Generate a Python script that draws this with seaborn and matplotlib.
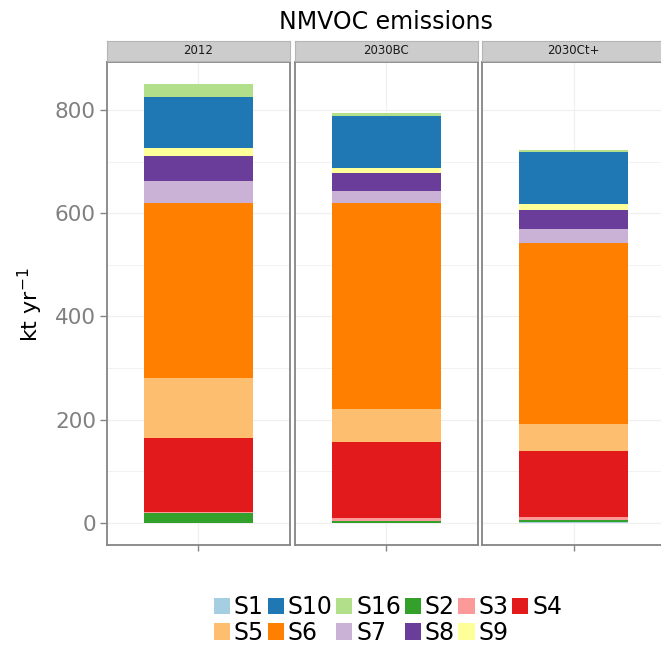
import numpy as np
import pandas as pd
import matplotlib
matplotlib.use("Agg")
import matplotlib.pyplot as plt
from matplotlib.patches import Patch
from matplotlib.ticker import MultipleLocator
import seaborn as sns

# ---------------- data ----------------
scenarios = ["2012", "2030BC", "2030Ct+"]
# stacking order, bottom to top
sectors = ["S1", "S2", "S3", "S4", "S5", "S6", "S7", "S8", "S9", "S10", "S16"]
vals_2012 = [0.5, 18.9, 1.9, 143.2, 117.3, 338.7, 42.0, 47.8, 16.7, 97.5, 25.7]
vals_2030BC = [1.0, 3.3, 6.3, 145.4, 64.0, 400.5, 23.0, 33.8, 10.9, 100.7, 5.8]
vals_2030Ct = [1.2, 3.8, 5.8, 128.5, 52.9, 349.7, 28.3, 36.2, 11.6, 101.2, 2.7]
legend_order = ["S1", "S10", "S16", "S2", "S3", "S4", "S5", "S6", "S7", "S8", "S9"]
y_ticks = [0, 200, 400, 600, 800]
title = "NMVOC emissions"
ylabel = "kt yr$^{-1}$"

paired = sns.color_palette("Paired", 12).as_hex()
colors = {s: paired[i] for i, s in enumerate(legend_order)}

rows = []
for sc, vals in zip(scenarios, [vals_2012, vals_2030BC, vals_2030Ct]):
    cum = np.cumsum(vals)
    for s, v, c in zip(sectors, vals, cum):
        rows.append(dict(scenario=sc, sector=s, value=v, cum=c))
df = pd.DataFrame(rows)

ymax = df.groupby("scenario")["value"].sum().max()
ylim = (-0.05 * ymax, 1.05 * ymax)

# ---------------- layout ----------------
W, H = 661, 648
fig = plt.figure(figsize=(W / 100, H / 100), dpi=100)


def rect(x0, y0, x1, y1):
    return [x0 / W, 1 - y1 / H, (x1 - x0) / W, (y1 - y0) / H]


panels_px = [(107, 290), (294.5, 478), (482, 665.5)]
p_top, p_bot = 62, 545
s_top = 41
border_col = "#858585"
grid_col = "#F0F0F0"

for i, (sc, (x0, x1)) in enumerate(zip(scenarios, panels_px)):
    ax = fig.add_axes(rect(x0, p_top, x1, p_bot))
    sub = df[df["scenario"] == sc]
    # draw cumulative totals from top layer down so each visible slice is one sector
    for s in sectors[::-1]:
        d = sub[sub["sector"] == s]
        sns.barplot(data=d, x="scenario", y="cum", color=colors[s], saturation=1,
                    width=0.7, errorbar=None, ax=ax, linewidth=0)
    ax.set_xlim(-0.59, 0.59)
    ax.set_ylim(*ylim)
    ax.set_yticks(y_ticks)
    ax.yaxis.set_minor_locator(MultipleLocator(100))
    ax.set_axisbelow(True)
    ax.grid(True, which="major", color=grid_col, lw=0.9)
    ax.grid(True, which="minor", axis="y", color=grid_col, lw=0.6)
    ax.set_xlabel("")
    ax.set_ylabel("")
    ax.set_xticks([0])
    ax.set_xticklabels([""])
    for sp in ax.spines.values():
        sp.set_color(border_col)
        sp.set_linewidth(1.3)
    ax.tick_params(axis="x", length=4, width=1, color=border_col)
    ax.tick_params(axis="y", which="minor", length=0)
    if i == 0:
        ax.tick_params(axis="y", length=5, width=1, color=border_col,
                       labelcolor="#808080", labelsize=15.5, pad=3)
    else:
        ax.tick_params(axis="y", length=0, labelleft=False)

    sax = fig.add_axes(rect(x0, s_top, x1, p_top - 1))
    sax.set_facecolor("#CCCCCC")
    sax.set_xticks([])
    sax.set_yticks([])
    for sp in sax.spines.values():
        sp.set_color("#B5B5B5")
        sp.set_linewidth(0.8)
    sax.text(0.5, 0.5, sc, transform=sax.transAxes, ha="center", va="center",
             fontsize=8.5, color="#1A1A1A")

fig.text(386 / W, 1 - 22 / H, title, ha="center", va="center", fontsize=17,
         color="black")
fig.text(30 / W, 1 - 305 / H, ylabel, ha="center", va="center", rotation=90,
         fontsize=16, color="black")

handles = [Patch(facecolor=colors[s], edgecolor="none") for s in legend_order]
# reorder so that a column-filled 2-row legend reads row by row
n_cols = 6
order = []
for c in range(n_cols):
    for r in range(2):
        k = r * n_cols + c
        if k < len(legend_order):
            order.append(k)
fig.legend([handles[k] for k in order], [legend_order[k] for k in order],
           loc="center", bbox_to_anchor=(388 / W, 1 - 620 / H), ncol=n_cols,
           frameon=False, fontsize=17, handlelength=0.68, handleheight=0.7,
           handletextpad=0.17, columnspacing=0.15, labelspacing=0.05,
           borderpad=0, borderaxespad=0)

fig.savefig("out.png", dpi=100)
